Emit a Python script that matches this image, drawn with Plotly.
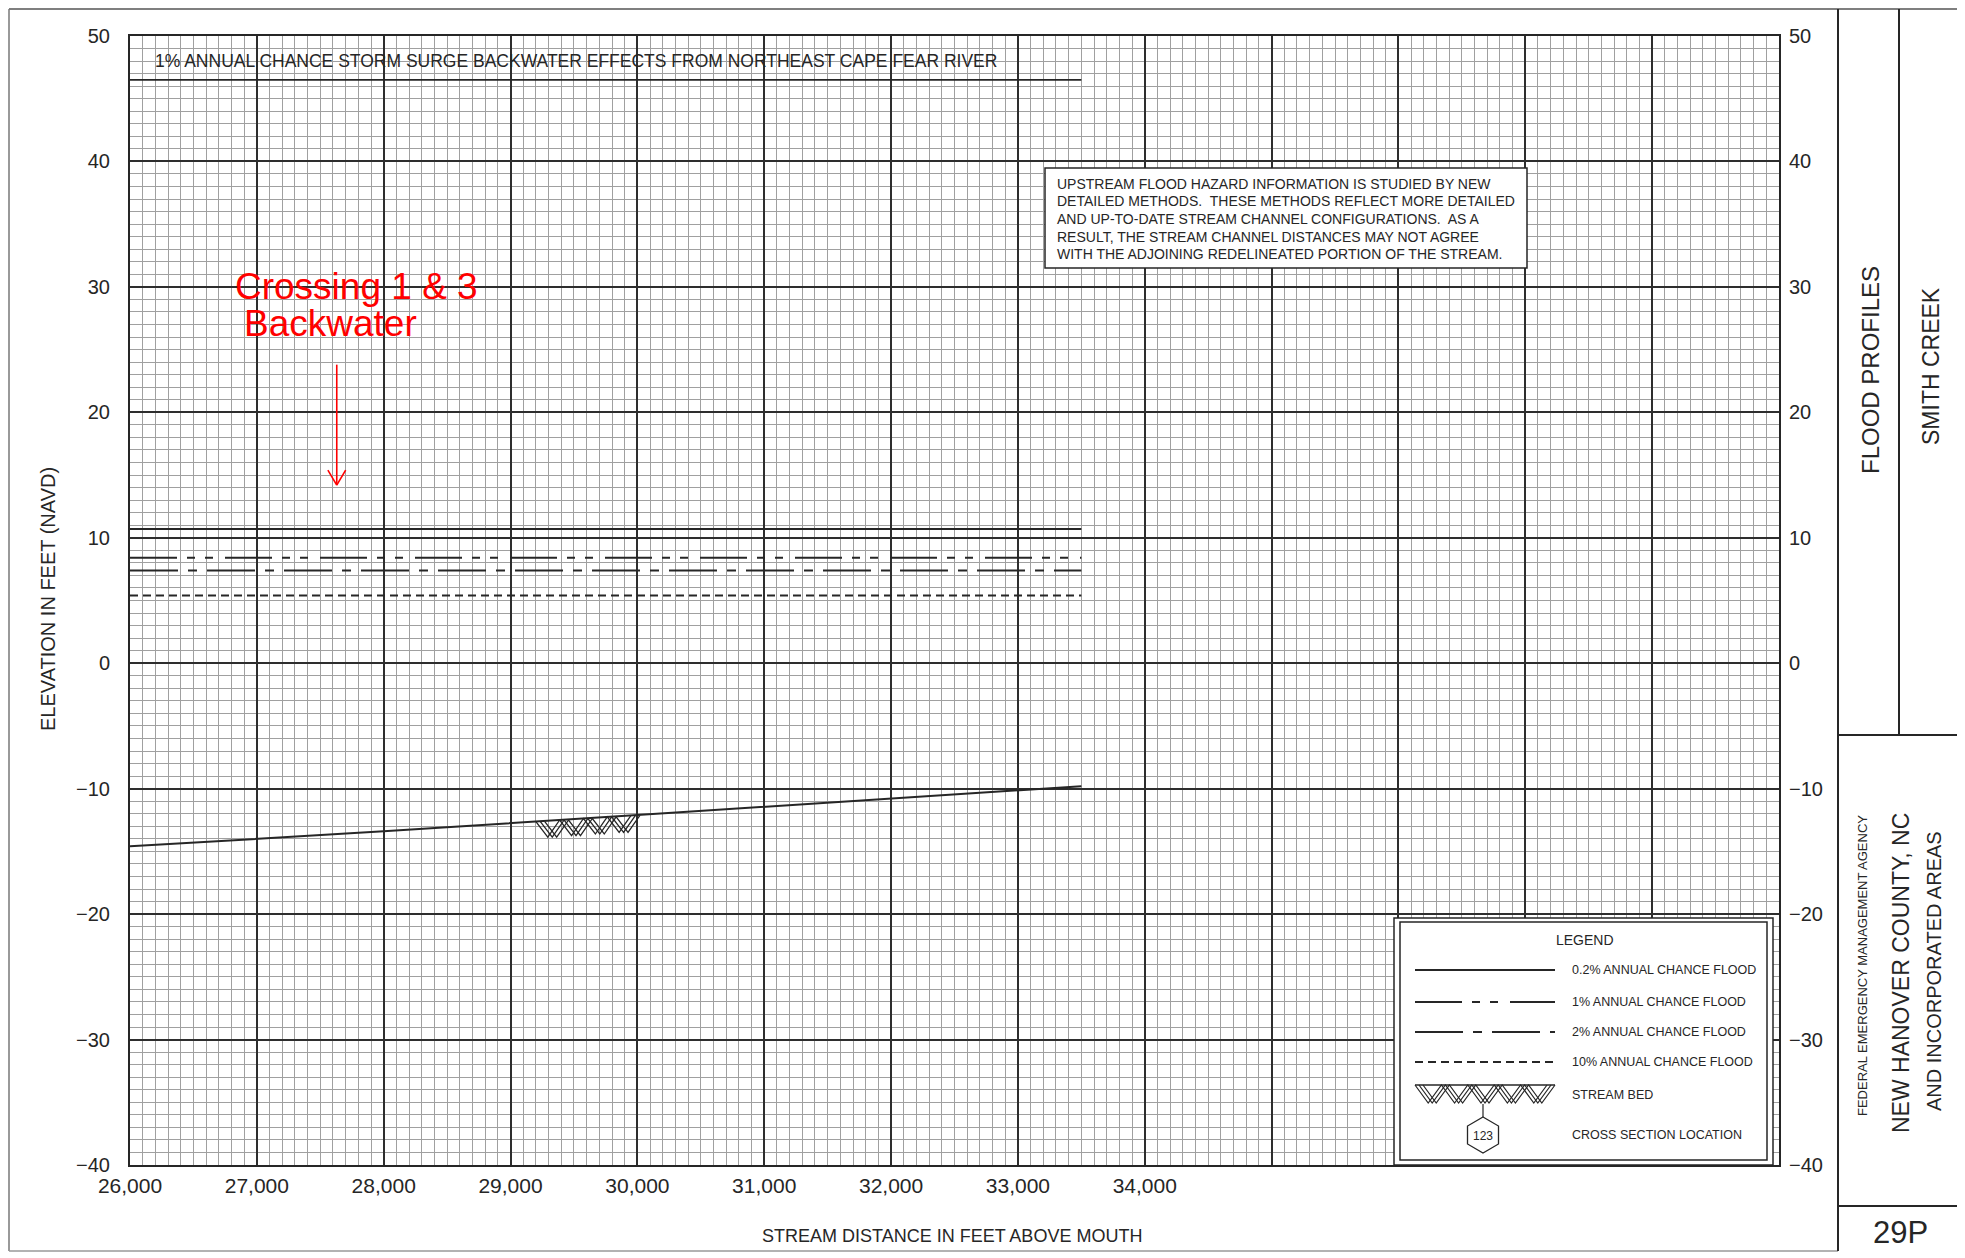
import numpy as np
import plotly.graph_objects as go

# ---------------- data ----------------
x_ticks = [26000, 27000, 28000, 29000, 30000, 31000, 32000, 33000, 34000,
           35000, 36000, 37000, 38000, 39000]
x_tick_labels = ["26,000", "27,000", "28,000", "29,000", "30,000", "31,000",
                 "32,000", "33,000", "34,000", "", "", "", "", ""]
y_ticks = [-40, -30, -20, -10, 0, 10, 20, 30, 40, 50]
y_tick_labels = ["\u221240", "\u221230", "\u221220", "\u221210", "0",
                 "10", "20", "30", "40", "50"]

profile_x = [26000, 33500]
flood_0_2pct = [10.7, 10.7]
flood_1pct = [8.4, 8.4]
flood_2pct = [7.4, 7.4]
flood_10pct = [5.4, 5.4]

surge_x = [26000, 33500]
surge_1pct = [46.5, 46.5]

bed_x = [26000, 28000, 30000, 32000, 33500]
bed_y = [-14.6, -13.4, -12.1, -10.8, -9.8]

hatch_x = [29200, 29950]
hatch_depth = 1.3
hatch_count = 4

arrow_x = 27630
arrow_top = 23.8
arrow_tip = 14.2

# ---------------- style ----------------
INK = "#262626"
SANS = "Liberation Sans, Arial, sans-serif"
DASH_1 = "47px,10px,8px,10px,8px,12px"
DASH_2 = "48px,10px,9px,10px"
DASH_10 = "8px,5px"

# page coordinates of the plot area (the page body has an 8px margin)
OFF = 8
W, H = 1965, 1258
L, R, T, B = 130, 1779, 36, 1165


def px(x):
    return (x - L) / (R - L)


def py(y):
    return (B - y) / (B - T)


fig = go.Figure()


def line_trace(x, y, dash="solid", width=2.0, yaxis="y"):
    fig.add_trace(go.Scatter(x=x, y=y, mode="lines", yaxis=yaxis,
                             line=dict(color=INK, width=width, dash=dash),
                             hoverinfo="skip", showlegend=False))


line_trace(surge_x, surge_1pct, width=1.8)
line_trace(profile_x, flood_0_2pct, width=2.0)
line_trace(profile_x, flood_1pct, DASH_1, 2.0)
line_trace(profile_x, flood_2pct, DASH_2, 2.0)
line_trace(profile_x, flood_10pct, DASH_10, 2.0)
line_trace(bed_x, bed_y, width=2.0)

# stream bed hatch (zig-zag under the bed line)
zx = np.linspace(hatch_x[0], hatch_x[1], 2 * hatch_count + 1)
ztop = np.interp(zx, bed_x, bed_y)
zy = np.where(np.arange(zx.size) % 2 == 0, ztop, ztop - hatch_depth)
for off in (0, 35, 70):
    line_trace(list(zx + off), list(zy), width=1.3)

# invisible trace to carry the right-hand axis
fig.add_trace(go.Scatter(x=profile_x, y=flood_0_2pct, yaxis="y2", mode="lines",
                         line=dict(color="rgba(0,0,0,0)"), hoverinfo="skip",
                         showlegend=False))

shapes = []
ann = []


def pline(x0, y0, x1, y1, color=INK, width=1.5, dash="solid"):
    shapes.append(dict(type="line", xref="paper", yref="paper",
                       x0=px(x0), y0=py(y0), x1=px(x1), y1=py(y1),
                       line=dict(color=color, width=width, dash=dash), layer="above"))


def prect(x0, y0, x1, y1, width=1.5, fill=None):
    shapes.append(dict(type="rect", xref="paper", yref="paper",
                       x0=px(x0), y0=py(y0), x1=px(x1), y1=py(y1),
                       line=dict(color=INK, width=width),
                       fillcolor=fill if fill else "rgba(0,0,0,0)", layer="above"))


def ptext(x, y, text, size, family=SANS, color=INK, angle=0, xanchor="center"):
    ann.append(dict(xref="paper", yref="paper", x=px(x), y=py(y), text=text,
                    showarrow=False, textangle=angle, xanchor=xanchor,
                    yanchor="middle",
                    font=dict(size=size, family=family, color=color)))


# sheet border and title block
pline(9, 9, 1961, 9, color="#555", width=1.5)
pline(9, 9, 9, 1251, color="#777", width=1.5)
pline(9, 1251, 1838, 1251, color="#999", width=1.5)
pline(1838, 9, 1838, 1251, width=2)
pline(1961, 9, 1961, 1251, width=2)
pline(1899, 9, 1899, 735, width=2)
pline(1838, 735, 1961, 735, width=2)
pline(1838, 1206, 1961, 1206, width=2)

ptext(1870, 370, "FLOOD PROFILES", 24, angle=-90)
ptext(1931, 366, "SMITH CREEK", 23, angle=-90)
ptext(1862, 966, "FEDERAL EMERGENCY MANAGEMENT AGENCY", 13, angle=-90)
ptext(1901, 973, "NEW HANOVER COUNTY, NC", 23, angle=-90)
ptext(1934, 971, "AND INCORPORATED AREAS", 20, angle=-90)
ptext(1900, 1232, "29P", 31)

# axis titles
ptext(48, 599, "ELEVATION IN FEET (NAVD)", 20, angle=-90)
ptext(952, 1236, "STREAM DISTANCE IN FEET ABOVE MOUTH", 18)

# storm surge note
ptext(153, 61, "1% ANNUAL CHANCE STORM SURGE BACKWATER EFFECTS FROM NORTHEAST CAPE FEAR RIVER",
      17.5, xanchor="left")

# text box
prect(1045, 168, 1527, 268, width=1.5, fill="white")
box_lines = [
    "UPSTREAM FLOOD HAZARD INFORMATION IS STUDIED BY NEW",
    "DETAILED METHODS.\u00a0 THESE METHODS REFLECT MORE DETAILED",
    "AND UP-TO-DATE STREAM CHANNEL CONFIGURATIONS.\u00a0 AS A",
    "RESULT, THE STREAM CHANNEL DISTANCES MAY NOT AGREE",
    "WITH THE ADJOINING REDELINEATED PORTION OF THE STREAM.",
]
for i, t in enumerate(box_lines):
    ptext(1055, 184 + i * 17.5, t, 14, xanchor="left")

# legend
prect(1394, 918, 1773, 1165, width=1.5, fill="white")
prect(1400, 922, 1767, 1160, width=1.5)
ptext(1585, 940, "LEGEND", 14)
rows = [
    (970, "solid", "0.2% ANNUAL CHANCE FLOOD"),
    (1002, DASH_1, "1% ANNUAL CHANCE FLOOD"),
    (1032, DASH_2, "2% ANNUAL CHANCE FLOOD"),
    (1062, DASH_10, "10% ANNUAL CHANCE FLOOD"),
]
for yy, dsh, lab in rows:
    pline(1415, yy, 1555, yy, width=2, dash=dsh)
    ptext(1570, yy, lab, 12.5, xanchor="left")

# legend stream bed hatch
pline(1415, 1085, 1555, 1085, width=1.5)
nz = 5
for off in (0, 4, 8):
    pts = []
    for k in range(2 * nz + 1):
        xx = 1415 + off + k * (132 / (2 * nz))
        yy = 1085 if k % 2 == 0 else 1103
        pts.append(f"{px(xx):.5f},{py(yy):.5f}")
    shapes.append(dict(type="path", xref="paper", yref="paper",
                       path="M" + " L".join(pts),
                       line=dict(color=INK, width=1.2), layer="above"))
ptext(1570, 1095, "STREAM BED", 12.5, xanchor="left")

# legend cross-section hexagon
cx, cy, rv, rh = 1483, 1135, 18, 15.5
hexpts = [(cx, cy - rv), (cx + rh, cy - rv / 2), (cx + rh, cy + rv / 2),
          (cx, cy + rv), (cx - rh, cy + rv / 2), (cx - rh, cy - rv / 2)]
shapes.append(dict(type="path", xref="paper", yref="paper",
                   path="M" + " L".join(f"{px(a):.5f},{py(b):.5f}" for a, b in hexpts) + " Z",
                   line=dict(color=INK, width=1.3), fillcolor="white", layer="above"))
pline(cx, 1104, cx, cy - rv, width=1.2)
ptext(cx, cy + 1, "123", 12)
ptext(1570, 1135, "CROSS SECTION LOCATION", 12.5, xanchor="left")

# red note and arrow
ann.append(dict(x=27789, y=30.05, xref="x", yref="y", text="Crossing 1 & 3",
                showarrow=False, font=dict(size=37, family=SANS, color="#ff0000")))
ann.append(dict(x=27584, y=27.1, xref="x", yref="y", text="Backwater",
                showarrow=False, font=dict(size=37, family=SANS, color="#ff0000")))
for x0, y0, x1, y1 in [(arrow_x, arrow_top, arrow_x, arrow_tip),
                       (arrow_x - 70, arrow_tip + 1.2, arrow_x, arrow_tip),
                       (arrow_x + 70, arrow_tip + 1.2, arrow_x, arrow_tip)]:
    shapes.append(dict(type="line", xref="x", yref="y", x0=x0, y0=y0, x1=x1, y1=y1,
                       line=dict(color="#ff0000", width=1.6), layer="above"))

fig.update_layout(
    width=W, height=H,
    margin=dict(l=L - OFF, r=W - (R - OFF), t=T - OFF, b=H - (B - OFF), pad=0,
                autoexpand=False),
    paper_bgcolor="white", plot_bgcolor="white",
    showlegend=False,
    shapes=shapes, annotations=ann,
    xaxis=dict(range=[26000, 39000], tickmode="array", tickvals=x_ticks,
               ticktext=x_tick_labels, showgrid=True, gridcolor="#2e2e2e",
               gridwidth=1.6, zeroline=False, showline=True, mirror=True,
               linecolor=INK, linewidth=2, ticks="", automargin=False,
               ticklabelstandoff=1,
               tickfont=dict(size=21, family=SANS, color=INK),
               minor=dict(tickmode="linear", tick0=26000, dtick=100,
                          showgrid=True, gridcolor="#a0a0a0", gridwidth=1)),
    yaxis=dict(range=[-40, 50], tickmode="array", tickvals=y_ticks,
               ticktext=y_tick_labels, showgrid=True, gridcolor="#2e2e2e",
               gridwidth=1.6, zeroline=False, showline=True, mirror=True,
               linecolor=INK, linewidth=2, ticks="", ticklabelstandoff=14,
               automargin=False,
               tickfont=dict(size=20, family=SANS, color=INK),
               minor=dict(tickmode="linear", tick0=-40, dtick=1,
                          showgrid=True, gridcolor="#a0a0a0", gridwidth=1)),
    yaxis2=dict(range=[-40, 50], overlaying="y", side="right", tickmode="array",
                tickvals=y_ticks, ticktext=y_tick_labels, showgrid=False,
                zeroline=False, showline=False, ticks="", ticklabelstandoff=9,
                automargin=False,
                tickfont=dict(size=20, family=SANS, color=INK)),
)

fig.write_html("out.html")
